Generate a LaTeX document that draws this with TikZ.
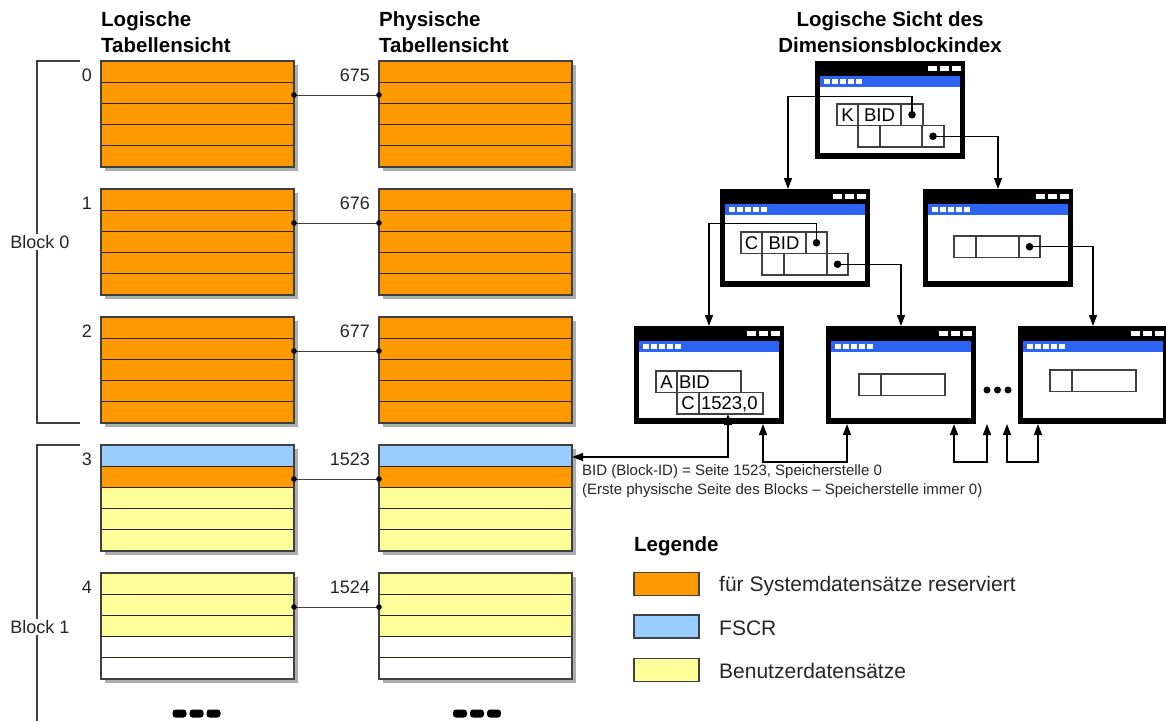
\documentclass[tikz,border=0pt]{standalone}
\usepackage{fontspec}
\setmainfont{Liberation Sans}
\usetikzlibrary{arrows.meta,calc}

\definecolor{sysorange}{RGB}{255,153,0}
\definecolor{fscrblue}{RGB}{153,204,255}
\definecolor{useryellow}{RGB}{255,255,153}
\definecolor{barblue}{RGB}{45,100,245}
\definecolor{rulecol}{RGB}{45,35,20}

\tikzset{
  tshadow/.style={fill=black!32},
  rowrule/.style={draw=rulecol, line width=1.1pt},
  pageframe/.style={draw=black!75, line width=1.1pt, minimum width=193pt, minimum height=106pt, inner sep=0pt, outer sep=0pt},
  numlabel/.style={font=\fontsize{18}{21}\selectfont, inner sep=0pt, text=black!85},
  pagelink/.style={draw=black!75, line width=1pt},
  headtext/.style={font=\fontsize{20.5}{26}\selectfont\bfseries, align=left, inner sep=0pt, anchor=north west},
  bracketline/.style={draw=black!75, line width=1.1pt},
  blocklabel/.style={font=\fontsize{18}{21}\selectfont, fill=white, inner sep=1.5pt, text=black!85},
  winbox/.style={minimum width=150pt, minimum height=98pt, inner sep=0pt, outer sep=0pt, anchor=north west},
  cellbox/.style={draw=black!75, line width=1.1pt, minimum height=21.5pt, inner sep=0pt, outer sep=0pt,
    text height=13.3pt, text depth=0pt, font=\fontsize{18.5}{21}\selectfont, anchor=north west},
  flow/.style={draw=black, line width=1.4pt, -{Triangle[length=11pt,width=8pt]}},
  twoway/.style={draw=black, line width=1.4pt, {Triangle[length=11pt,width=8pt]}-{Triangle[length=11pt,width=8pt]}},
  notetext/.style={font=\fontsize{15}{19.5}\selectfont, align=left, inner sep=0pt, anchor=north west, text=black!85},
  legendhead/.style={font=\fontsize{20.5}{24}\selectfont\bfseries, inner sep=0pt, anchor=west},
  legendtext/.style={font=\fontsize{21}{24}\selectfont, inner sep=0pt, anchor=west, text=black!85},
  swatch/.style={draw=black!75, line width=1.1pt, minimum width=65pt, minimum height=23pt, inner sep=0pt}
}

% one page of the table: shadow, five coloured rows, outline and page number
\newcommand\pagetable[5]{%
  \fill[tshadow] (#2+4,#3+4) rectangle (#2+197,#3+110);
  \foreach \c [count=\i from 0] in {#4}
    \filldraw[rowrule, fill=\c] (#2,#3+\i*21.2) rectangle (#2+193,#3+\i*21.2+21.2);
  \node[pageframe, anchor=north west] (#1) at (#2,#3) {};
  \node[numlabel, anchor=east] (#1-lbl) at (#2-9,#3+14) {#5};
}

% link between a logical page and its physical page
\newcommand\linkpages[2]{%
  \path ($(#1.north east)+(0,34)$) coordinate (#1-pin)
        ($(#2.north west)+(0,34)$) coordinate (#2-pin);
  \draw[pagelink] (#1-pin) -- (#2-pin);
  \fill[black] (#1-pin) circle (2.8pt) (#2-pin) circle (2.8pt);
}

% index page drawn as a small window
\newcommand\idxwindow[3]{%
  \begin{scope}[shift={(#2,#3)}]
    \fill[black] (0,0) rectangle (150,98);
    \fill[white] (5,26) rectangle (145,92);
    \fill[barblue] (5,14.5) rectangle (145,26);
    \foreach \k in {0,...,4} \fill[white] (9+\k*8,18) rectangle (14.5+\k*8,22.5);
    \foreach \k in {0,1,2} \fill[white] (113+\k*12,5) rectangle (122+\k*12,9.5);
  \end{scope}
  \node[winbox] (#1) at (#2,#3) {};
}

% index entry cells (centred / left-aligned text)
\newcommand\idxcell[5]{\node[cellbox, minimum width=#4pt] (#1) at (#2,#3) {#5};}
\newcommand\idxcellL[5]{\node[cellbox, text width=#4pt, inner xsep=2pt, align=left] (#1) at (#2,#3) {#5};}

\begin{document}
\begin{tikzpicture}[x=1pt,y=-1pt]
\useasboundingbox (0,0) rectangle (1166,720);
\fill[white] (0,0) rectangle (1166,720);

% headings
\node[headtext] (hl) at (101,11) {Logische\\Tabellensicht};
\node[headtext] (hp) at (379,11) {Physische\\Tabellensicht};
\node[headtext, align=center, anchor=north] (hi) at (890,11) {Logische Sicht des\\Dimensionsblockindex};

% block brackets
\draw[bracketline] (80,61) -- (37,61) -- (37,423) -- (80,423);
\node[blocklabel] (b0) at (40,242) {Block 0};
\draw[bracketline] (80,445) -- (37,445) -- (37,725);
\node[blocklabel] (b1) at (40,627) {Block 1};

% logical and physical pages
\pagetable{l0}{101}{61}{sysorange,sysorange,sysorange,sysorange,sysorange}{0}
\pagetable{p0}{379}{61}{sysorange,sysorange,sysorange,sysorange,sysorange}{675}
\pagetable{l1}{101}{189}{sysorange,sysorange,sysorange,sysorange,sysorange}{1}
\pagetable{p1}{379}{189}{sysorange,sysorange,sysorange,sysorange,sysorange}{676}
\pagetable{l2}{101}{317}{sysorange,sysorange,sysorange,sysorange,sysorange}{2}
\pagetable{p2}{379}{317}{sysorange,sysorange,sysorange,sysorange,sysorange}{677}
\pagetable{l3}{101}{445}{fscrblue,sysorange,useryellow,useryellow,useryellow}{3}
\pagetable{p3}{379}{445}{fscrblue,sysorange,useryellow,useryellow,useryellow}{1523}
\pagetable{l4}{101}{573}{useryellow,useryellow,useryellow,white,white}{4}
\pagetable{p4}{379}{573}{useryellow,useryellow,useryellow,white,white}{1524}

\linkpages{l0}{p0}
\linkpages{l1}{p1}
\linkpages{l2}{p2}
\linkpages{l3}{p3}
\linkpages{l4}{p4}

% continuation marks below the pages
\foreach \x in {179.5,196.5,213.5,460,477,494}
  \fill[black, rounded corners=3pt] (\x-7,709.5) rectangle (\x+7,717.5);

% index pages
\idxwindow{root}{815}{61}
\idxwindow{midl}{720}{189}
\idxwindow{midr}{923}{189}
\idxwindow{botl}{634}{326}
\idxwindow{botm}{826}{326}
\idxwindow{botr}{1018}{326}

% root entries
\idxcell{rk1}{837}{104}{21}{K}
\idxcell{rk2}{858}{104}{43}{BID}
\idxcell{rk3}{901}{104}{22}{}
\idxcell{rr1}{858}{125.5}{22}{}
\idxcell{rr2}{880}{125.5}{42}{}
\idxcell{rr3}{922}{125.5}{22}{}

% inner entries
\idxcell{ck1}{741}{232}{21}{C}
\idxcell{ck2}{762}{232}{44}{BID}
\idxcell{ck3}{806}{232}{21}{}
\idxcell{cr1}{762}{253.5}{22}{}
\idxcell{cr2}{784}{253.5}{43}{}
\idxcell{cr3}{827}{253.5}{21}{}

\idxcell{m1}{954}{236}{22}{}
\idxcell{m2}{976}{236}{43}{}
\idxcell{m3}{1019}{236}{21}{}

% leaf entries
\idxcell{a1}{656}{371}{21}{A}
\idxcellL{a2}{677}{371}{60}{BID}
\idxcell{a3}{677}{392.5}{22}{C}
\idxcellL{a4}{699}{392.5}{60}{1523,0}

\idxcell{n1}{859}{374}{22}{}
\idxcell{n2}{881}{374}{64}{}
\idxcell{r1}{1050}{370}{22}{}
\idxcell{r2}{1072}{370}{64}{}

% pointers inside the index
\foreach \p in {rk3,rr3,ck3,cr3,m3} \fill[black] (\p.center) circle (3.8pt);
\draw[flow] (rk3.center) -- ++(0,-18) -| ($(midl.north west)+(68,0)$);
\draw[flow] (rr3.center) -| (midr.north);
\draw[flow] (ck3.center) -- ++(0,-19) -| (botl.north);
\draw[flow] (cr3.center) -| (botm.north);
\draw[flow] (m3.center) -| (botr.north);

\foreach \x in {987,997.5,1008} \fill[black] (\x,390) circle (3.5pt);

% leaf chain and block pointer
\coordinate (g1) at (987,424);
\coordinate (g2) at (1007,424);
\draw[twoway] ($(a4.south)+(-3,0)$) |- ($(p3.north east)+(0,12)$);
\draw[twoway] ($(botl.south west)+(129,0)$) -- ++(0,38) -| ($(botm.south west)+(21,0)$);
\draw[twoway] ($(botm.south west)+(128,0)$) -- ++(0,38) -| (g1);
\draw[twoway] (g2) -- ++(0,38) -| ($(botr.south west)+(20,0)$);

\node[notetext] (note) at (582,464) {BID (Block-ID) = Seite 1523, Speicherstelle 0\\(Erste physische Seite des Blocks – Speicherstelle immer 0)};

% legend
\node[legendhead] (lg) at (634,546) {Legende};
\node[swatch, fill=sysorange] (s1) at (666.5,584) {};
\node[swatch, fill=fscrblue] (s2) at (666.5,626.5) {};
\node[swatch, fill=useryellow] (s3) at (666.5,670) {};
\node[legendtext] (s1t) at (719,586) {für Systemdatensätze reserviert};
\node[legendtext] (s2t) at (719,628) {FSCR};
\node[legendtext] (s3t) at (719,671) {Benutzerdatensätze};
\end{tikzpicture}
\end{document}
